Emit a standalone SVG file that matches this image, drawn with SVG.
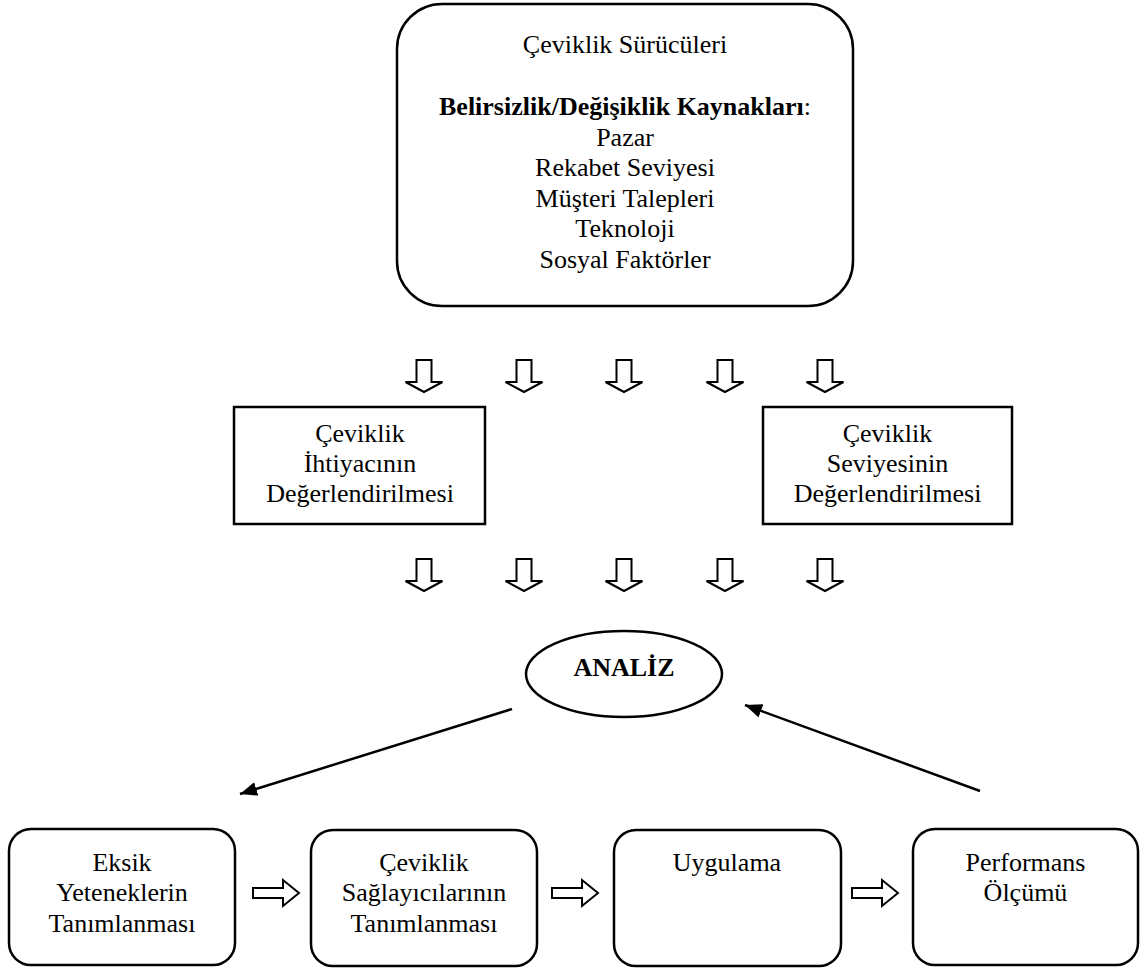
<svg xmlns="http://www.w3.org/2000/svg" width="1141" height="969" viewBox="0 0 1141 969">
  <style>
    .box { fill: #ffffff; stroke: #000000; stroke-width: 2.5; }
    .txt { font-family: "Liberation Serif", "Times New Roman", serif; font-size: 26px; fill: #000000; text-anchor: middle; }
    .bold { font-weight: bold; }
    .blk { fill: #ffffff; stroke: #000000; stroke-width: 2; stroke-linejoin: miter; }
    .conn { stroke: #000000; stroke-width: 2.5; fill: none; }
  </style>
  <defs>
    <marker id="head" markerUnits="userSpaceOnUse" markerWidth="18" markerHeight="14" refX="17" refY="7" orient="auto">
      <path d="M0,0 L17,7 L0,14 Z" fill="#000000"/>
    </marker>
    <!-- hollow block arrow pointing down, origin at top centre of the shaft -->
    <path id="downArrow" class="blk" d="M-7.5,0 H7.5 V22 H18.5 L0,32 L-18.5,22 H-7.5 Z"/>
    <!-- hollow block arrow pointing right, origin at left middle of the shaft -->
    <path id="rightArrow" class="blk" d="M0,-5 H30 V-13 L46,0 L30,13 V5 H0 Z"/>
  </defs>

  <rect width="1141" height="969" fill="#ffffff"/>

  <!-- drivers -->
  <g id="node-drivers">
    <rect class="box" x="397" y="4" width="456" height="302" rx="45" ry="45"/>
    <text class="txt" x="625" y="53">Çeviklik Sürücüleri</text>
    <text class="txt" x="625" y="115"><tspan class="bold">Belirsizlik/Değişiklik Kaynakları</tspan>:</text>
    <text class="txt" x="625" y="145.5">Pazar</text>
    <text class="txt" x="625" y="176">Rekabet Seviyesi</text>
    <text class="txt" x="625" y="206.5">Müşteri Talepleri</text>
    <text class="txt" x="625" y="237">Teknoloji</text>
    <text class="txt" x="625" y="267.5">Sosyal Faktörler</text>
  </g>

  <!-- first row of block arrows -->
  <g id="arrows-row1">
    <use href="#downArrow" x="424" y="360"/>
    <use href="#downArrow" x="524" y="360"/>
    <use href="#downArrow" x="624" y="360"/>
    <use href="#downArrow" x="725" y="360"/>
    <use href="#downArrow" x="825" y="360"/>
  </g>

  <g id="node-need">
    <rect class="box" x="234" y="407" width="251" height="117"/>
    <text class="txt" x="360" y="442">Çeviklik</text>
    <text class="txt" x="360" y="472">İhtiyacının</text>
    <text class="txt" x="360" y="502">Değerlendirilmesi</text>
  </g>

  <g id="node-level">
    <rect class="box" x="763" y="407" width="249" height="117"/>
    <text class="txt" x="887.5" y="442">Çeviklik</text>
    <text class="txt" x="887.5" y="472">Seviyesinin</text>
    <text class="txt" x="887.5" y="502">Değerlendirilmesi</text>
  </g>

  <!-- second row of block arrows -->
  <g id="arrows-row2">
    <use href="#downArrow" x="424" y="559"/>
    <use href="#downArrow" x="524" y="559"/>
    <use href="#downArrow" x="624" y="559"/>
    <use href="#downArrow" x="725" y="559"/>
    <use href="#downArrow" x="825" y="559"/>
  </g>

  <g id="node-analiz">
    <ellipse class="box" cx="624" cy="674" rx="98" ry="43"/>
    <text class="txt bold" x="624" y="676">ANALİZ</text>
  </g>

  <g id="connectors">
    <line class="conn" x1="512" y1="709" x2="240" y2="794" marker-end="url(#head)"/>
    <line class="conn" x1="980" y1="791" x2="745" y2="705" marker-end="url(#head)"/>
    <use href="#rightArrow" x="253" y="893"/>
    <use href="#rightArrow" x="552" y="893"/>
    <use href="#rightArrow" x="852" y="893"/>
  </g>

  <g id="node-gaps">
    <rect class="box" x="9" y="829" width="226" height="136" rx="22" ry="22"/>
    <text class="txt" x="122" y="871">Eksik</text>
    <text class="txt" x="122" y="901">Yeteneklerin</text>
    <text class="txt" x="122" y="931.5">Tanımlanması</text>
  </g>

  <g id="node-enablers">
    <rect class="box" x="311" y="830" width="226" height="136" rx="22" ry="22"/>
    <text class="txt" x="424" y="871">Çeviklik</text>
    <text class="txt" x="424" y="901">Sağlayıcılarının</text>
    <text class="txt" x="424" y="931.5">Tanımlanması</text>
  </g>

  <g id="node-apply">
    <rect class="box" x="614" y="830" width="227" height="136" rx="22" ry="22"/>
    <text class="txt" x="727" y="871">Uygulama</text>
  </g>

  <g id="node-performance">
    <rect class="box" x="913" y="829" width="225" height="136" rx="22" ry="22"/>
    <text class="txt" x="1025.5" y="871">Performans</text>
    <text class="txt" x="1025.5" y="901">Ölçümü</text>
  </g>
</svg>
